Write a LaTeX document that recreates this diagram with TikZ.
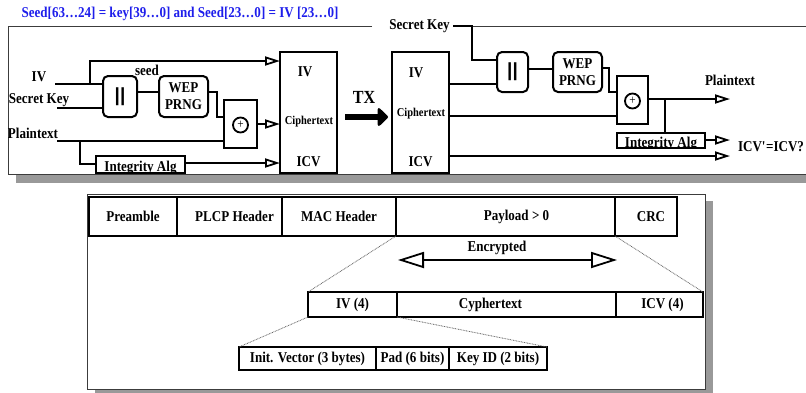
\documentclass[tikz,border=0pt]{standalone}
\usepackage{fontspec}
\setmainfont{Liberation Serif}[FakeStretch=0.87]
\newfontfamily\barfont{Liberation Sans}
\usetikzlibrary{arrows.meta}
\definecolor{shadowgray}{RGB}{153,153,153}
\definecolor{titleblue}{RGB}{30,30,235}
\definecolor{framegray}{RGB}{60,60,60}
\begin{document}
\begin{tikzpicture}[x=1pt,y=-1pt,
  lbl/.style={font=\fontsize{15}{16}\selectfont\bfseries, inner sep=0pt},
  small/.style={font=\fontsize{12}{13}\selectfont\bfseries, inner sep=0pt},
  weptxt/.style={font=\fontsize{15}{17}\selectfont\bfseries, align=center},
  bartxt/.style={font=\barfont\fontsize{19}{19}\selectfont\bfseries},
  blk/.style={draw, line width=2pt, inner sep=0pt, outer sep=0pt},
  rblk/.style={blk, rounded corners=5pt},
  xorc/.style={draw, circle, line width=1.8pt, minimum size=15pt, inner sep=0pt, font=\fontsize{13}{13}\selectfont},
  wire/.style={line width=2pt},
  arr/.style={wire, -{Triangle[open, length=15pt, width=9pt, line width=1.8pt]}},
  frameline/.style={draw=framegray, line width=1pt},
  dots/.style={draw=gray!80!black, line width=0.8pt, dash pattern=on 0.8pt off 0.8pt},
  cell/.style={blk, font=\fontsize{15}{16}\selectfont\bfseries}
]
\useasboundingbox (0,0) rectangle (806,392);

% ---------- top frame ----------
\fill[shadowgray] (16,34) rectangle (830,183);
\fill[white] (8,26) rectangle (820,174);
\draw[frameline] (372,26) -- (8,26) -- (8,174) -- (820,174);
\draw[frameline] (460,26) -- (820,26);

\node[lbl, text=titleblue] (title) at (180,14) {Seed[63…24] = key[39…0] and Seed[23…0] = IV [23…0]};

% ---------- sender ----------
\node[lbl] (ivL) at (39,77) {IV};
\node[lbl] (skL) at (39,100) {Secret Key};
\node[lbl] (ptL) at (33,133) {Plaintext};
\node[lbl] (seedL) at (147,70) {seed};

\node[rblk, minimum width=34pt, minimum height=41pt, bartxt] (cat1) at (120,96.5) {||};
\node[rblk, minimum width=49pt, minimum height=41pt, weptxt] (wep1) at (183.5,96.5) {WEP\\PRNG};
\node[blk, minimum width=33pt, minimum height=48pt] (xor1) at (240.5,124) {};
\node[xorc] (x1c) at (240.5,125) {+};
\node[blk, minimum width=57pt, minimum height=121pt] (snd) at (308.5,112.5) {};
\node[lbl] (sIV) at (305,72) {IV};
\node[small] (sCT) at (309,122) {Ciphertext};
\node[lbl] (sICV) at (308.5,162) {ICV};
\node[blk, minimum width=89pt, minimum height=17pt,
  path picture={\node[lbl, anchor=base] at ([yshift=-7pt]path picture bounding box.center) {Integrity Alg};}] (ia1) at (140.5,164.5) {};

\coordinate (ivS) at (55,84);
\coordinate (ivB) at (90,84);
\coordinate (ivT) at (90,61);
\draw[wire] (ivS) -- (ivS -| cat1.west);
\draw[arr] (ivB) -- (ivT) -- (ivT -| snd.west);
\coordinate (skS) at (57,108);
\draw[wire] (skS) -- (skS -| cat1.west);
\coordinate (sd1) at (0,92);
\draw[wire] (cat1.east |- sd1) -- (wep1.west |- sd1);
\coordinate (w1a) at (217,92);
\coordinate (w1b) at (217,117);
\draw[wire] (wep1.east |- w1a) -- (w1a) -- (w1b) -- (w1b -| xor1.west);
\draw[arr] (xor1.east) -- (snd.west |- xor1.east);
\coordinate (ptS) at (57,141);
\draw[wire] (ptS) -- (ptS -| xor1.west);
\coordinate (ptB) at (80,141);
\coordinate (ptC) at (80,164);
\draw[wire] (ptB) -- (ptC) -- (ptC -| ia1.west);
\coordinate (ia1o) at (0,163);
\draw[arr] (ia1.east |- ia1o) -- (snd.west |- ia1o);

% ---------- TX ----------
\node[font=\fontsize{18.5}{19}\selectfont\bfseries, inner sep=0pt] (tx) at (364,97) {TX};
\coordinate (txA) at (345,117);
\coordinate (txB) at (388,117);
\draw[line width=5.5pt, -{Triangle[length=11pt, width=21pt, round]}] (txA) -- (txB);

% ---------- receiver ----------
\node[blk, minimum width=57pt, minimum height=121pt] (rcv) at (420.5,112.5) {};
\node[lbl] (rIV) at (416,73) {IV};
\node[small] (rCT) at (421,114) {Ciphertext};
\node[lbl] (rICV) at (420.5,162) {ICV};
\node[lbl] (skR) at (419.5,26) {Secret Key};
\node[rblk, minimum width=31pt, minimum height=40pt, bartxt] (cat2) at (512.5,72) {||};
\node[rblk, minimum width=49pt, minimum height=40pt, weptxt] (wep2) at (577.5,72) {WEP\\PRNG};
\node[blk, minimum width=31pt, minimum height=48pt] (xor2) at (632.5,100) {};
\node[xorc] (x2c) at (632.5,101) {+};
\node[blk, minimum width=88pt, minimum height=15pt,
  path picture={\node[lbl, anchor=base] at ([yshift=-6.5pt]path picture bounding box.center) {Integrity Alg};}] (ia2) at (661,140.5) {};
\node[lbl] (ptR) at (730,80) {Plaintext};
\node[lbl] (icvR) at (771,147) {ICV\textquotesingle=ICV?};

\coordinate (kA) at (453,26);
\coordinate (kB) at (472,26);
\coordinate (kC) at (472,60);
\draw[wire] (kA) -- (kB) -- (kC) -- (kC -| cat2.west);
\coordinate (r84) at (0,84);
\draw[wire] (rcv.east |- r84) -- (cat2.west |- r84);
\coordinate (r69) at (0,69);
\draw[wire] (cat2.east |- r69) -- (wep2.west |- r69);
\coordinate (w2a) at (609,68);
\coordinate (w2b) at (609,92);
\draw[wire] (wep2.east |- w2a) -- (w2a) -- (w2b) -- (w2b -| xor2.west);
\coordinate (r116) at (0,116);
\draw[wire] (rcv.east |- r116) -- (xor2.west |- r116);
\coordinate (ptE) at (730,99);
\draw[arr] (xor2.east |- ptE) -- (ptE);
\coordinate (brA) at (665,99);
\draw[wire] (brA) -- (brA |- ia2.north);
\coordinate (icvE) at (730,140);
\draw[arr] (ia2.east |- icvE) -- (icvE);
\coordinate (icv2E) at (730,156);
\draw[arr] (rcv.east |- icv2E) -- (icv2E);

% ---------- bottom frame ----------
\fill[shadowgray] (95,201) rectangle (713,397);
\draw[frameline, fill=white] (87,194) rectangle (705,389);

\node[cell, minimum width=88pt, minimum height=39pt] (pre) at (133,216.5) {Preamble};
\node[cell, minimum width=105pt, minimum height=39pt] (plcp) at (229.5,216.5) {};
\node[cell, minimum width=114pt, minimum height=39pt] (mac) at (339,216.5) {MAC Header};
\node[cell, minimum width=219pt, minimum height=39pt] (pay) at (505.5,216.5) {};
\node[cell, minimum width=62pt, minimum height=39pt] (crc) at (646,216.5) {};
\node[lbl] (plcpT) at ([xshift=5pt]plcp.center) {PLCP Header};
\node[lbl] (payT) at ([xshift=11pt]pay.center) {Payload > 0};
\node[lbl] (crcT) at ([xshift=5pt]crc.center) {CRC};

\coordinate (eL) at (398,260);
\coordinate (eR) at (617,260);
\draw[wire, {Triangle[open, length=26pt, width=16pt, line width=1.8pt]}-{Triangle[open, length=26pt, width=16pt, line width=1.8pt]}] (eL) -- (eR);
\node[lbl] (encT) at (497,248) {Encrypted};

\node[cell, minimum width=89pt, minimum height=25pt] (iv4) at (352.5,304.5) {IV (4)};
\node[cell, minimum width=219pt, minimum height=25pt] (cyp) at (506.5,304.5) {};
\node[cell, minimum width=87pt, minimum height=25pt] (icv4) at (659.5,304.5) {};
\node[lbl] (cypT) at ([xshift=-16pt]cyp.center) {Cyphertext};
\node[lbl] (icv4T) at ([xshift=3pt]icv4.center) {ICV (4)};

\node[cell, minimum width=137pt, minimum height=23pt] (initv) at (307.5,358.5) {Init. Vector (3 bytes)};
\node[cell, minimum width=73pt, minimum height=23pt] (pad) at (412.5,358.5) {Pad (6 bits)};
\node[cell, minimum width=98pt, minimum height=23pt] (keyid) at (498,358.5) {Key ID (2 bits)};

\draw[dots] (pay.south west) -- (iv4.north west);
\draw[dots] (crc.south west) -- (icv4.north east);
\draw[dots] (iv4.south west) -- (initv.north west);
\draw[dots] (iv4.south east) -- (keyid.north east);
\end{tikzpicture}
\end{document}
